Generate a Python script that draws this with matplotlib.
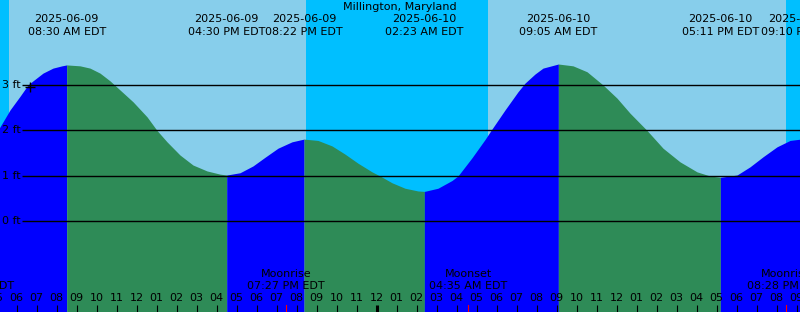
import numpy as np
import pandas as pd
import matplotlib
matplotlib.use("Agg")
import matplotlib.pyplot as plt
import matplotlib.transforms as mtransforms

plt.rcParams["font.family"] = ["DejaVu Sans"]

BASE = pd.Timestamp("2025-06-09 00:00")
STATION = "Millington, Maryland"

# tide height (hours after 2025-06-09 00:00, feet)
curve_hours = [5.10, 5.665, 6.165, 6.565, 6.815, 7.315, 7.815, 8.265, 8.50,
               9.165, 9.665, 10.165, 10.665, 11.165, 11.815, 12.515, 13.015, 13.515,
               14.165, 14.815, 15.515, 16.165, 16.50, 17.165, 17.815, 18.415, 19.065,
               19.765, 20.367, 21.065, 21.765, 22.415, 23.065, 23.765, 24.165, 24.765,
               25.415, 26.065, 26.383, 27.065, 27.765, 28.065, 28.765, 29.415, 29.715,
               30.415, 31.065, 31.415, 31.915, 32.315, 33.083, 33.815, 34.515, 35.315,
               36.015, 36.665, 37.515, 38.315, 39.165, 40.015, 40.665, 41.183, 42.015,
               42.665, 43.315, 44.015, 44.665, 45.20]
curve_ft = [2.03, 2.45, 2.75, 3.00, 3.09, 3.26, 3.37, 3.42, 3.44,
            3.42, 3.37, 3.26, 3.09, 2.89, 2.63, 2.30, 2.00, 1.75,
            1.46, 1.24, 1.11, 1.04, 1.02, 1.07, 1.22, 1.41, 1.61,
            1.75, 1.81, 1.78, 1.66, 1.48, 1.28, 1.09, 1.00, 0.85,
            0.73, 0.67, 0.66, 0.73, 0.90, 1.00, 1.40, 1.80, 2.00,
            2.45, 2.85, 3.04, 3.24, 3.37, 3.46, 3.42, 3.29, 3.00,
            2.71, 2.38, 2.00, 1.61, 1.31, 1.09, 1.00, 0.97, 1.02,
            1.20, 1.42, 1.64, 1.78, 1.81]

tide_times = ["2025-06-09 08:30", "2025-06-09 16:30", "2025-06-09 20:22",
              "2025-06-10 02:23", "2025-06-10 09:05", "2025-06-10 17:11",
              "2025-06-10 21:10"]
tide_dates = ["2025-06-09", "2025-06-09", "2025-06-09", "2025-06-10",
              "2025-06-10", "2025-06-10", "2025-06-10"]
tide_clock = ["08:30 AM EDT", "04:30 PM EDT", "08:22 PM EDT", "02:23 AM EDT",
              "09:05 AM EDT", "05:11 PM EDT", "09:10 PM EDT"]

moon_times = ["2025-06-09 03:56", "2025-06-09 19:27", "2025-06-10 04:35",
              "2025-06-10 20:28"]
moon_kind = ["Moonset", "Moonrise", "Moonset", "Moonrise"]
moon_clock = ["03:56 AM EDT", "07:27 PM EDT", "04:35 AM EDT", "08:28 PM EDT"]

sunrise = ["2025-06-09 05:37", "2025-06-10 05:34"]
sunset = ["2025-06-09 20:28", "2025-06-10 20:28"]

grid_ft = [0, 1, 2, 3]
mark_hour, mark_ft = 6.67, 2.96


def to_hours(ts):
    return np.array((pd.to_datetime(ts) - BASE) / pd.Timedelta(hours=1))


tide_h = to_hours(tide_times)
moon_h = to_hours(moon_times)
rise_h = to_hours(sunrise)
set_h = to_hours(sunset)

XMIN, XMAX = 5.165, 45.165
YMIN, YMAX = -1.99, 4.867
NIGHT = "#00BFFF"
DAY = "#87CEEB"

fig = plt.figure(figsize=(8, 3.12), dpi=100, facecolor=DAY)
ax = fig.add_axes([0, 0, 1, 1])
ax.set_xlim(XMIN, XMAX)
ax.set_ylim(YMIN, YMAX)
ax.axis("off")

# daylight, then night shading
ax.axvspan(XMIN - 1, XMAX + 1, color=DAY, lw=0, zorder=0)
night_start = [XMIN - 1] + list(set_h)
night_end = list(rise_h) + [XMAX + 1]
for a, b in zip(night_start, night_end):
    ax.axvspan(a, b, color=NIGHT, lw=0, zorder=0)

# tide curve, blue while rising, green while falling
t = np.array(curve_hours)
h = np.array(curve_ft)
idx = [0] + [int(np.argmin(np.abs(t - e))) for e in tide_h if e < t[-1]] + [len(t) - 1]
for i0, i1 in zip(idx[:-1], idx[1:]):
    seg = slice(i0, i1 + 1)
    col = "#0000FF" if h[i1] > h[i0] else "#2E8B57"
    ax.fill_between(t[seg], h[seg], YMIN, color=col, lw=0, zorder=1)

# depth lines and labels
ax.hlines(grid_ft, 6.265, XMAX, colors="black", lw=1.0, zorder=2)
for g in grid_ft:
    ax.text(XMIN + 0.12, g, f"{g} ft", fontsize=8, ha="left", va="center", zorder=3)
ax.plot([mark_hour], [mark_ft], marker="+", color="black", ms=7, mew=1.0, zorder=3)

# title and tide event labels
ax.text(0.5, 0.977, STATION, transform=ax.transAxes, fontsize=8, ha="center", va="center")
for x, d, c in zip(tide_h, tide_dates, tide_clock):
    ax.text(x, YMAX - 19.3 / 45.5, d, fontsize=8, ha="center", va="center", clip_on=False)
    ax.text(x, YMAX - 31.7 / 45.5, c, fontsize=8, ha="center", va="center", clip_on=False)

# hour ticks at bottom
trans = mtransforms.blended_transform_factory(ax.transData, ax.transAxes)
hours = np.arange(5, 46)
for hr in hours:
    lw = 2.2 if hr % 24 == 0 else 0.8
    ax.plot([hr, hr], [0, 7 / 312], color="black", lw=lw, transform=trans,
            solid_capstyle="butt", zorder=4)
    ax.text(hr, 1 - 297.7 / 312, f"{(hr - 1) % 12 + 1:02d}", transform=trans,
            fontsize=8, ha="center", va="center", zorder=4)

# moon events
for x, k, c in zip(moon_h, moon_kind, moon_clock):
    ax.plot([x, x], [0, 7 / 312], color="red", lw=0.8, transform=trans, zorder=4)
    ax.text(x, 1 - 274 / 312, k, transform=trans, fontsize=8, ha="center", va="center")
    ax.text(x, 1 - 285.7 / 312, c, transform=trans, fontsize=8, ha="center", va="center")

fig.savefig("out.png", dpi=100)
